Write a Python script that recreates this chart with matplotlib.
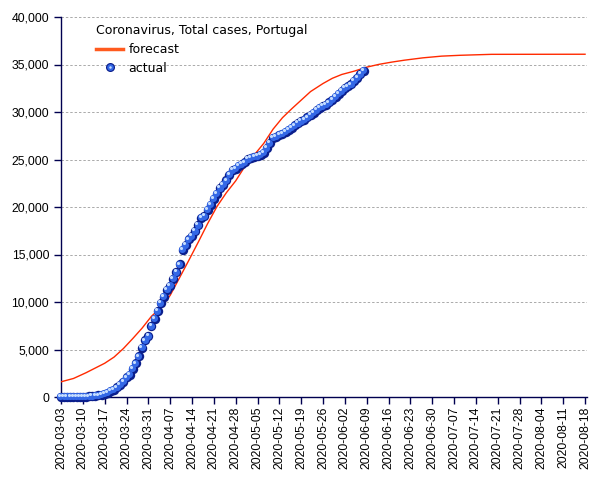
import numpy as np
import pandas as pd
import matplotlib
matplotlib.use("Agg")
import matplotlib.pyplot as plt
import matplotlib.transforms as mtransforms
from matplotlib.lines import Line2D
from matplotlib.legend_handler import HandlerTuple
from matplotlib.ticker import FuncFormatter

plt.rcParams["font.family"] = ["Liberation Sans", "DejaVu Sans"]

# actual cumulative cases, one per day from 2020-03-03
actual_start = "2020-03-03"
actual_cases = [
    2, 4, 6, 9, 13, 21, 30, 39, 41, 59, 78, 112, 169, 245, 331, 448, 642, 785,
    1020, 1280, 1600, 2060, 2362, 2995, 3544, 4268, 5170, 5962, 6408, 7443,
    8251, 9034, 9886, 10524, 11278, 11730, 12442, 13141, 13956, 15472, 15987,
    16585, 16934, 17448, 18091, 18841, 19022, 19685, 20206, 20863, 21379,
    21982, 22353, 22797, 23392, 23864, 24027, 24322, 24505, 24692, 25045,
    25190, 25282, 25351, 25524, 25702, 26182, 26715, 27268, 27406, 27581,
    27679, 27913, 28132, 28319, 28583, 28810, 29036, 29209, 29432, 29660,
    29912, 30200, 30471, 30623, 30788, 31007, 31292, 31596, 31946, 32203,
    32500, 32700, 32895, 33261, 33592, 33969, 34351,
]
actual_dates = pd.date_range(actual_start, periods=len(actual_cases), freq="D")

# forecast curve
forecast_dates = pd.to_datetime([
    "2020-03-03", "2020-03-07", "2020-03-11", "2020-03-14", "2020-03-17",
    "2020-03-20", "2020-03-23", "2020-03-26", "2020-03-29", "2020-04-01",
    "2020-04-04", "2020-04-07", "2020-04-10", "2020-04-13", "2020-04-16",
    "2020-04-19", "2020-04-22", "2020-04-25", "2020-04-28", "2020-05-01",
    "2020-05-04", "2020-05-07", "2020-05-10", "2020-05-13", "2020-05-16",
    "2020-05-19", "2020-05-22", "2020-05-26", "2020-05-29", "2020-06-01",
    "2020-06-05", "2020-06-09", "2020-06-13", "2020-06-17", "2020-06-21",
    "2020-06-27", "2020-07-03", "2020-07-09", "2020-07-19", "2020-08-18",
])
forecast_cases = [
    1600, 1950, 2550, 3050, 3550, 4200, 5100, 6150, 7250, 8500,
    9400, 10700, 12550, 14400, 16300, 18250, 20050, 21500, 22750, 24300,
    25500, 26700, 28200, 29400, 30350, 31250, 32150, 33000, 33550, 33950,
    34300, 34720, 35020, 35250, 35450, 35700, 35880, 35970, 36070, 36080,
]

title = "Coronavirus, Total cases, Portugal"
navy = "#000050"

fig = plt.figure(figsize=(6.05, 4.8), dpi=100)
ax = fig.add_axes([61 / 605, 83 / 480, 526 / 605, 380 / 480])

ax.plot(forecast_dates, forecast_cases, color="#ff2a00", lw=1.0, zorder=3)

# sphere-looking markers: dark rim, blue body, light highlight
body = mtransforms.offset_copy(ax.transData, fig=fig, x=-0.4, y=0.4, units="points")
hl = mtransforms.offset_copy(ax.transData, fig=fig, x=-1.3, y=1.3, units="points")
ax.scatter(actual_dates, actual_cases, s=46, color="#0b1f8c", zorder=4, clip_on=False, linewidths=0)
ax.scatter(actual_dates, actual_cases, s=26, color="#3468e6", zorder=5, clip_on=False,
           linewidths=0, transform=body)
ax.scatter(actual_dates, actual_cases, s=5, color="#c4dcff", zorder=6, clip_on=False,
           linewidths=0, transform=hl)

ax.set_xlim(pd.Timestamp("2020-03-03"), pd.Timestamp("2020-08-18") + pd.Timedelta(hours=15))
ax.set_ylim(0, 40000)
ax.set_yticks(np.arange(0, 40001, 5000))
ax.yaxis.set_major_formatter(FuncFormatter(lambda v, p: f"{int(v):,}"))
ticks = pd.date_range("2020-03-03", "2020-08-18", freq="7D")
ax.set_xticks(ticks)
ax.set_xticklabels([d.strftime("%Y-%m-%d") for d in ticks], rotation=90)

ax.grid(axis="y", color="#aaaaaa", linestyle=(0, (2.5, 2)), lw=0.7)
ax.set_axisbelow(True)
for s in ["top", "right"]:
    ax.spines[s].set_visible(False)
for s in ["left", "bottom"]:
    ax.spines[s].set_color(navy)
    ax.spines[s].set_linewidth(1.0)
ax.tick_params(axis="both", colors=navy, labelcolor="black", length=5, width=1.0, labelsize=8.8)
ax.tick_params(axis="x", pad=2)

m_base = Line2D([], [], marker="o", linestyle="none", markersize=6.5,
                markerfacecolor="#0b1f8c", markeredgewidth=0)
m_body = Line2D([], [], marker="o", linestyle="none", markersize=4.8,
                markerfacecolor="#3468e6", markeredgewidth=0)
m_hl = Line2D([], [], marker="o", linestyle="none", markersize=1.8,
              markerfacecolor="#c4dcff", markeredgewidth=0)
handles = [Line2D([], [], color="#ff5a1e", lw=2.5), (m_base, m_body, m_hl)]
leg = ax.legend(handles, ["forecast", "actual"], title=title, frameon=False,
                loc="upper left", bbox_to_anchor=(0.04, 1.017),
                title_fontproperties={"family": "DejaVu Sans", "size": 9},
                prop={"family": "DejaVu Sans", "size": 9},
                handler_map={tuple: HandlerTuple(ndivide=1, pad=0)},
                borderpad=0.6, handlelength=2.2, handletextpad=0.4, labelspacing=0.45)
leg._legend_box.align = "left"

fig.savefig("out.png", dpi=100)
